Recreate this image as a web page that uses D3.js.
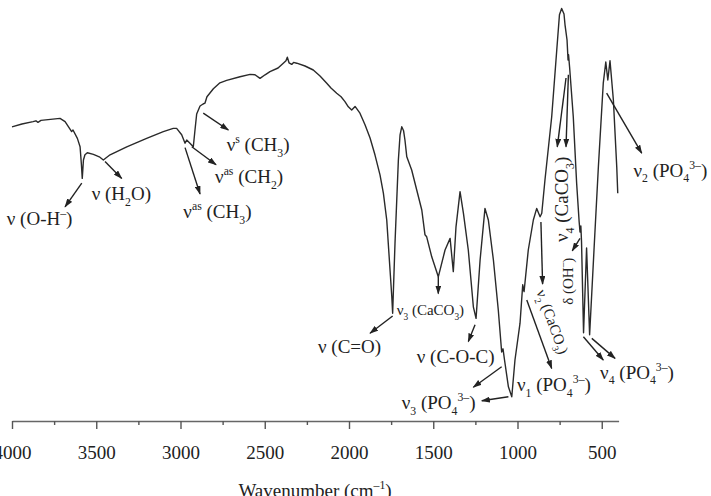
<!DOCTYPE html>
<html>
<head>
<meta charset="utf-8">
<script src="https://cdn.jsdelivr.net/npm/d3@7"></script>
<style>
  body { margin: 0; background: #fff; }
  svg { display: block; }
  text { font-family: "Liberation Serif", "Times New Roman", serif; fill: #222; }
</style>
</head>
<body>
<div class="container"></div>
<script>
const WIDTH = 711;
const HEIGHT = 496;
const AXIS_Y = 421;

// FTIR spectrum (wavenumber in cm-1, transmittance in arbitrary %)
const wavenumbers = [4000, 3941, 3875, 3858, 3846, 3828, 3715, 3685, 3646, 3638, 3612, 3596, 3588, 3583, 3576,
  3567, 3553, 3517, 3482, 3458, 3418, 3319, 3201, 3102, 3043, 3023, 2993, 2973, 2963, 2944, 2924, 2914, 2904,
  2884, 2866, 2855, 2843, 2805, 2766, 2726, 2647, 2587, 2558, 2528, 2498, 2469, 2421, 2390, 2374, 2366, 2356,
  2340, 2329, 2310, 2261, 2212, 2172, 2132, 2107, 2073, 2047, 2024, 2004, 1984, 1964, 1935, 1905, 1875, 1846,
  1816, 1796, 1776, 1767, 1746, 1741, 1727, 1707, 1697, 1687, 1676, 1668, 1657, 1628, 1598, 1568, 1549, 1539,
  1509, 1470, 1430, 1400, 1381, 1365, 1341, 1321, 1292, 1262, 1246, 1222, 1193, 1173, 1143, 1114, 1094, 1086,
  1077, 1054, 1034, 1015, 985, 969, 961, 936, 906, 886, 866, 856, 837, 797, 767, 751, 738, 724, 718, 706, 700,
  697, 691, 669, 649, 634, 629, 624, 620, 608, 590, 572, 546, 520, 491, 476, 464, 451, 431, 411, 405];
const transmittance = [73.3, 74.0, 74.6, 74.8, 74.4, 74.9, 75.4, 74.6, 72.1, 72.5, 70.4, 68.3, 63.8, 60.4, 65.0,
  66.3, 66.8, 66.4, 65.8, 65.0, 66.3, 68.3, 70.4, 72.1, 72.9, 72.9, 71.3, 69.2, 70.0, 69.2, 68.3, 72.5, 76.5,
  78.5, 79.0, 79.2, 80.8, 82.8, 84.3, 84.9, 85.8, 86.4, 86.3, 85.4, 86.3, 87.1, 88.0, 89.2, 89.8, 90.7, 89.3,
  88.9, 89.4, 89.2, 88.5, 87.5, 86.0, 84.2, 83.0, 81.7, 80.8, 79.6, 78.3, 77.5, 78.4, 76.7, 73.8, 70.5, 66.3,
  61.3, 56.7, 50.0, 44.2, 30.8, 26.7, 44.2, 65.0, 71.3, 73.3, 72.3, 70.0, 65.8, 62.5, 57.5, 52.5, 46.3, 45.8,
  40.8, 35.8, 42.5, 45.4, 37.1, 48.3, 57.1, 51.7, 42.5, 28.3, 25.4, 40.0, 52.9, 50.0, 40.0, 27.5, 17.0, 17.8,
  15.0, 8.3, 5.8, 15.0, 24.2, 33.8, 32.1, 42.5, 50.0, 52.9, 50.8, 51.7, 60.0, 75.8, 92.5, 101.3, 102.9, 101.5, 98.8, 95.0, 90.0,
  91.3, 88.3, 75.8, 59.2, 49.5, 47.0, 48.5, 44.5, 21.8, 43.0, 21.3, 42.5, 63.3, 84.2, 89.5, 85.0, 89.8, 80.0, 63.3, 56.7];

const majorTicks = [4000, 3500, 3000, 2500, 2000, 1500, 1000, 500];
const minorTicks = [3750, 3250, 2750, 2250, 1750, 1250, 750];

// band assignments: label, label anchor (wavenumber, transmittance), arrows [from w, from t, to w, to t]
const annotations = [
  {label: 'ν (O-H^{–})', w: 4031, t: 50.4, size: 19, arrows: [[3586, 59.2, 3685, 53.3]]},
  {label: 'ν (H_{2}O)', w: 3527, t: 56.7, size: 19, arrows: [[3448, 64.6, 3349, 60.4]]},
  {label: 'ν^{as} (CH_{3})', w: 2983, t: 52.1, size: 19, arrows: [[2973, 68.1, 2884, 56.5]]},
  {label: 'ν^{as} (CH_{2})', w: 2795, t: 60.8, size: 19, arrows: [[2933, 68.3, 2789, 63.8]]},
  {label: 'ν^{s} (CH_{3})', w: 2726, t: 68.8, size: 19, arrows: [[2865, 76.7, 2716, 72.5]]},
  {label: 'ν (C=O)', w: 2184, t: 18.3, size: 19, arrows: [[1741, 26.0, 1875, 21.7]]},
  {label: 'ν_{3} (CaCO_{3})', w: 1717, t: 27.5, size: 15, arrows: [[1470, 35.8, 1470, 31.6]]},
  {label: 'ν (C-O-C)', w: 1598, t: 16.0, size: 19, arrows: [[1252, 23.8, 1292, 19.6]]},
  {label: 'ν_{3} (PO_{4}^{3–})', w: 1687, t: 4.3, size: 19, arrows: [[1054, 5.8, 1212, 4.8], [1094, 13.3, 1262, 8.2]]},
  {label: 'ν_{1} (PO_{4}^{3–})', w: 1003, t: 8.8, size: 19, arrows: [[945, 30.0, 797, 12.9]]},
  {label: 'ν_{2} (CaCO_{3})', w: 860, t: 32.5, size: 15, rotate: 70, arrows: [[861, 49.5, 851, 34.0]]},
  {label: 'δ (OH^{–})', w: 703, t: 28.8, size: 15, rotate: -90, arrows: [[629, 45.4, 675, 42.3]]},
  {label: 'ν_{4} (CaCO_{3})', w: 738, t: 44.5, size: 19, rotate: -90, arrows: [[712, 85.5, 764, 68.3], [698, 86.3, 712, 68.3]]},
  {label: 'ν_{4} (PO_{4}^{3–})', w: 510, t: 12.0, size: 19, arrows: [[609, 20.8, 491, 15.0], [559, 20.4, 421, 15.4]]},
  {label: 'ν_{2} (PO_{4}^{3–})', w: 312, t: 62.5, size: 19, arrows: [[471, 81.7, 263, 66.7]]}
];

var xScale = d3.scaleLinear()
    .domain([4000, 400])
    .range([12, 618.6]);

var yScale = d3.scaleLinear()
    .domain([0, 105])
    .range([420, 0]);

var translate = function(x, y){
    return "translate(" + x + "," + y + ")";
};

// text with _{sub} and ^{sup} pieces
var richText = function(sel, str, size){
    var text = sel.append('text').attr('font-size', size);
    var parts = str.match(/_\{[^}]*\}|\^\{[^}]*\}|[^_^]+/g);
    var shift = 0;
    parts.forEach(function(p){
        var target = 0, s = size, content = p;
        if (p[0] === '_') { target = size * 0.3; s = size * 0.62; content = p.slice(2, -1); }
        else if (p[0] === '^') { target = -size * 0.42; s = size * 0.62; content = p.slice(2, -1); }
        text.append('tspan').attr('dy', target - shift).attr('font-size', s).text(content);
        shift = target;
    });
    return text;
};

var loadChart = function(){
    var svg = d3.select('.container').append('svg')
        .attr('width', WIDTH)
        .attr('height', HEIGHT);

    svg.append('defs').append('marker')
        .attr('id', 'arrow')
        .attr('viewBox', '0 0 10 10')
        .attr('refX', 9).attr('refY', 5)
        .attr('markerWidth', 9).attr('markerHeight', 6)
        .attr('markerUnits', 'userSpaceOnUse')
        .attr('preserveAspectRatio', 'none')
        .attr('orient', 'auto')
        .append('path')
        .attr('d', 'M0,0 L10,5 L0,10 z')
        .attr('fill', '#222');

    // x axis
    var xAxis = d3.axisBottom(xScale)
        .tickValues(majorTicks)
        .tickFormat(d3.format('d'))
        .tickSize(8)
        .tickSizeOuter(0);
    var ax = svg.append('g').attr('transform', translate(0, AXIS_Y)).call(xAxis);
    ax.select('.domain').attr('stroke', '#666').attr('stroke-width', 1.6);
    ax.selectAll('.tick line').attr('stroke', '#555').attr('stroke-width', 1.4);
    ax.selectAll('.tick text')
        .attr('dy', null).attr('y', 38)
        .attr('font-size', 19)
        .attr('font-family', '"Liberation Serif", serif')
        .attr('fill', '#222');

    var minorAxis = d3.axisBottom(xScale).tickValues(minorTicks).tickSize(4).tickFormat('');
    var mx = svg.append('g').attr('transform', translate(0, AXIS_Y)).call(minorAxis);
    mx.select('.domain').remove();
    mx.selectAll('.tick line').attr('stroke', '#555').attr('stroke-width', 1.4);

    var xLabel = svg.append('g').attr('transform', translate(315, 497));
    richText(xLabel, 'Wavenumber (cm^{–1})', 19).attr('text-anchor', 'middle');

    // spectrum
    var points = wavenumbers.map(function(w, i){ return {w: w, t: transmittance[i]}; });
    var line = d3.line()
        .x(function(d){ return xScale(d.w); })
        .y(function(d){ return yScale(d.t); });

    svg.append('path')
        .datum(points)
        .attr('d', line)
        .attr('fill', 'none')
        .attr('stroke', '#2a2a2a')
        .attr('stroke-width', 1.4)
        .attr('stroke-linejoin', 'round');

    // annotations
    annotations.forEach(function(a){
        a.arrows.forEach(function(ar){
            svg.append('line')
                .attr('x1', xScale(ar[0])).attr('y1', yScale(ar[1]))
                .attr('x2', xScale(ar[2])).attr('y2', yScale(ar[3]))
                .attr('stroke', '#222')
                .attr('stroke-width', 1.4)
                .attr('marker-end', 'url(#arrow)');
        });
        var g = svg.append('g')
            .attr('transform', translate(xScale(a.w), yScale(a.t)) + (a.rotate ? ' rotate(' + a.rotate + ')' : ''));
        richText(g, a.label, a.size).attr('y', a.size * 0.35);
    });
};

window.onload = loadChart;
</script>
</body>
</html>
